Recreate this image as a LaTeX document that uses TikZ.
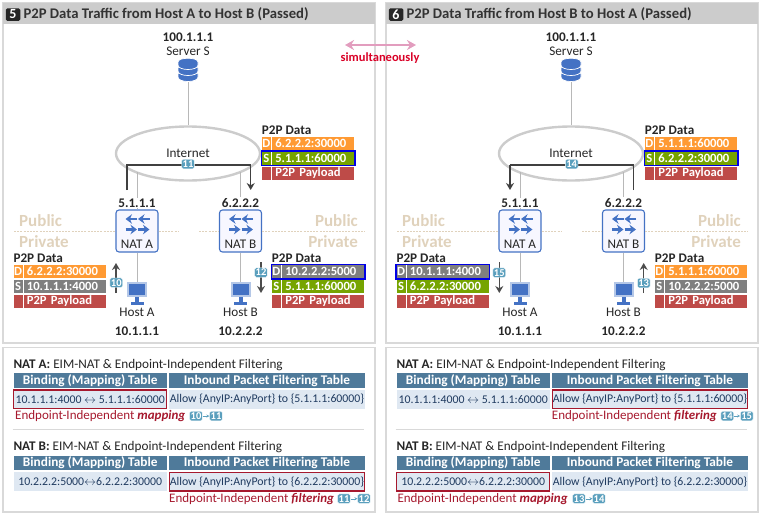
\documentclass[tikz,border=0pt]{standalone}
\usepackage{fontspec}
\setmainfont{Carlito}
\usepackage{xcolor}
\usetikzlibrary{positioning,shapes.geometric,arrows.meta,fit}
\definecolor{frmgray}{HTML}{D9D9D9}
\definecolor{barblue}{HTML}{4F7A9A}
\definecolor{rowblue}{HTML}{DFE8F2}
\definecolor{txtblue}{HTML}{1F3A5F}
\definecolor{icoblue}{HTML}{4472C4}
\definecolor{icolite}{HTML}{B4C7E7}
\definecolor{tagteal}{HTML}{5A9FBD}
\definecolor{pktorange}{HTML}{FF9A33}
\definecolor{pktgreen}{HTML}{76A400}
\definecolor{pktgray}{HTML}{7F7F7F}
\definecolor{pktred}{HTML}{BE4B48}
\definecolor{tan}{HTML}{E0D2BC}
\definecolor{redline}{HTML}{A6192E}
\definecolor{pinkline}{HTML}{E29DBE}
\tikzset{
  frm/.style={draw=frmgray, line width=1.2pt},
  link/.style={draw=black!28, line width=1pt},
  flow/.style={draw=black!75, line width=1.2pt},
  updown/.style={draw=black!70, line width=1.4pt, -{Stealth[length=7pt,width=8pt]}},
  zone/.style={draw=tan, line width=1pt, dash pattern=on 2pt off 1.2pt},
  zonetxt/.style={text=tan, font=\fontsize{17}{17}\selectfont\bfseries, inner sep=0pt},
  lbl/.style={text=black!85, font=\fontsize{13.2}{14}\selectfont, inner sep=0pt},
  lblb/.style={text=black!85, font=\fontsize{13.2}{14}\selectfont\bfseries, inner sep=0pt},
  tag/.style={fill=tagteal, draw=white, line width=.3pt, rounded corners=1.5pt, text=white, inner sep=0pt,
    minimum width=12.7pt, minimum height=9.5pt, font=\fontsize{10.5}{10.5}\selectfont\bfseries},
  pktkey/.style={text=white, inner sep=0pt, minimum width=9pt, minimum height=13.5pt,
    font=\fontsize{12.6}{13}\selectfont\bfseries},
  pktval/.style={text=white, inner sep=0pt, minimum width=82pt, minimum height=13.5pt,
    text width=76pt, align=left, font=\fontsize{12.6}{13}\selectfont\bfseries},
  bluebox/.style={draw=blue!90!black, line width=1.3pt, inner sep=.4pt},
  redbox/.style={draw=redline, line width=1.4pt, inner sep=-.4pt},
  thead/.style={fill=barblue, text=white, inner sep=0pt, minimum height=14.7pt, font=\fontsize{13.3}{14}\selectfont\bfseries},
  tcell/.style={fill=rowblue, text=txtblue, inner sep=0pt, minimum height=19pt, font=\fontsize{11.8}{13}\selectfont},
  redtxt/.style={text=redline, inner sep=0pt, font=\fontsize{13}{13}\selectfont},
  natbox/.style={draw=icoblue, fill=blue!3, line width=1.1pt, rounded corners=3pt, minimum width=42pt, minimum height=42pt, inner sep=0pt},
  natarrow/.style={icoblue, line width=2.6pt, -{Stealth[length=6.5pt,width=9.5pt]}},
}
\newcommand{\pktbox}[7]{
  \node[pktkey, fill=#4, anchor=west] (#1d) at (#2,#3) {D};
  \node[pktval, fill=#4, right=1pt of #1d] (#1dv) {#5};
  \node[pktkey, fill=#6, below=1pt of #1d] (#1s) {S};
  \node[pktval, fill=#6, right=1pt of #1s] (#1sv) {#7};
  \node[pktkey, fill=pktred, below=1pt of #1s] (#1p) {};
  \node[pktval, fill=pktred, right=1pt of #1p] (#1pv) {P2P Payload};
  \node[lblb, anchor=south west] (#1t) at (#2,#3-8.5) {P2P Data};
}
\newcommand{\nattable}[5]{
  \node[lbl, anchor=west] (#1t) at (\tblx,#2) {\textbf{#3:} EIM-NAT \& Endpoint-Independent Filtering};
  \node[thead, minimum width=153.4pt, anchor=west] (#1a) at (\tblx,#2+15.5) {Binding (Mapping) Table};
  \node[thead, minimum width=195.3pt, right=2pt of #1a] (#1b) {Inbound Packet Filtering Table};
  \node[tcell, minimum width=153.4pt, below=1.6pt of #1a] (#1c) {#4};
  \node[tcell, minimum width=195.3pt, below=1.6pt of #1b] (#1e) {#5};
}
\begin{document}
\begin{tikzpicture}[x=1pt, y=-1pt, >=stealth]
  \useasboundingbox (0,0) rectangle (760,515);
  \foreach \p/\dx/\num/\from/\to in {L/0/5/A/B, R/383/6/B/A} {
    \begin{scope}[xshift=\dx]
      \draw[frm] (3,3) rectangle (375,343);
      \fill[black!20] (3,3) rectangle (375,24);
      \draw[frm] (3,347.5) rectangle (375,512);
      \node[fill=black!85, text=white, rounded corners=1.5pt, inner sep=0pt, minimum width=14.5pt, minimum height=12.5pt,
        font=\fontsize{14}{14}\selectfont\bfseries] (\p num) at (13,14.5) {\num};
      \node[text=black!80, anchor=west, inner sep=0pt, font=\fontsize{14.7}{15}\selectfont\bfseries] (\p title) at (23.3,14)
        {P2P Data Traffic from Host \from{} to Host \to{} (Passed)};
      \node[lblb] (\p ip) at (188,37) {100.1.1.1};
      \node[lbl] (\p name) at (188,51) {Server S};
      \node[minimum width=20pt, minimum height=22pt, inner sep=0pt] (\p srv) at (188,71) {};
      \foreach \yy in {77,71,65}
        \filldraw[fill=icoblue, draw=white, line width=.7pt] (178,\yy) .. controls (178,\yy+6) and (198,\yy+6) .. (198,\yy)
          -- (198,\yy-3) .. controls (198,\yy-8) and (178,\yy-8) .. (178,\yy-3) -- cycle;
      \node[ellipse, draw=black!20, line width=2.4pt, fill=white, minimum width=144pt, minimum height=54pt, inner sep=0pt] (\p net) at (188,153.5) {};
      \node[lbl] (\p nettxt) at (188,153) {Internet};
      \draw[link] (\p srv) -- (\p net);
      \node[natbox] (\p natA) at (137,231) {};
      \node[natbox] (\p natB) at (240.5,231) {};
      \coordinate (\p natAup) at (137,172);
      \coordinate (\p natBup) at (240.5,172);
      \draw[link] (\p natAup) -- (\p natA);
      \draw[link] (\p natBup) -- (\p natB);
      \node[lblb, fill=white, inner ysep=1pt, inner xsep=0pt] (\p ipA) at (137,203) {5.1.1.1};
      \node[lblb, fill=white, inner ysep=1pt, inner xsep=0pt] (\p ipB) at (240.5,203) {6.2.2.2};
      \foreach \cx in {137,240.5} {
        \foreach \ax in {-11.5,1} {
          \draw[natarrow] (\cx+\ax+11.5,219) -- (\cx+\ax,219);
          \draw[natarrow] (\cx+\ax,229.5) -- (\cx+\ax+11.5,229.5);
        }
      }
      \node[lbl] (\p natAt) at (137,244) {NAT A};
      \node[lbl] (\p natBt) at (240.5,244) {NAT B};
      \coordinate (\p zoneAl) at (14,231);
      \coordinate (\p zoneAr) at (179,231);
      \coordinate (\p zoneBl) at (199,231);
      \coordinate (\p zoneBr) at (365,231);
      \draw[zone] (\p zoneAl) -- (\p natA.west);
      \draw[zone] (\p natA.east) -- (\p zoneAr);
      \draw[zone] (\p zoneBl) -- (\p natB.west);
      \draw[zone] (\p natB.east) -- (\p zoneBr);
      \node[zonetxt, anchor=west] (\p pubA) at (19,221) {Public};
      \node[zonetxt, anchor=west] (\p priA) at (19,241.5) {Private};
      \node[zonetxt, anchor=east] (\p pubB) at (358,221) {Public};
      \node[zonetxt, anchor=east] (\p priB) at (358,241.5) {Private};
      \foreach \h/\cx/\ha/\hip in {A/137/A/10.1.1.1, B/240.5/B/10.2.2.2} {
        \node[minimum width=20pt, minimum height=15pt, inner sep=0pt, fill=icolite] (\p host\h) at (\cx,289.5) {};
        \fill[icoblue] (\cx-8,284) rectangle (\cx+8,295);
        \fill[icoblue] (\cx-2,297) rectangle (\cx+2,302);
        \fill[icoblue] (\cx-6.5,302) rectangle (\cx+6.5,304.5);
        \draw[link] (\p nat\h) -- (\p host\h);
        \node[lbl] (\p hostt\h) at (\cx,312) {Host \ha};
        \node[lblb] (\p hostip\h) at (\cx,331) {\hip};
      }
    \end{scope}
  }

  \coordinate (simL) at (345,45);
  \coordinate (simR) at (416,45);
  \draw[draw=pinkline, line width=2.4pt, {Stealth[length=9pt,width=10pt]}-{Stealth[length=9pt,width=10pt]}] (simL) -- (simR);
  \node[text=red!85!blue, inner sep=0pt, font=\fontsize{12.5}{13}\selectfont\bfseries] (sim) at (380,58) {simultaneously};

  \pktbox{pa}{261.7}{143.5}{pktorange}{6.2.2.2:30000}{pktgreen}{5.1.1.1:60000}
  \pktbox{pb}{13.3}{271.5}{pktorange}{6.2.2.2:30000}{pktgray}{10.1.1.1:4000}
  \pktbox{pc}{271.7}{271.5}{pktgray}{10.2.2.2:5000}{pktgreen}{5.1.1.1:60000}
  \pktbox{pd}{644.7}{143.5}{pktorange}{5.1.1.1:60000}{pktgreen}{6.2.2.2:30000}
  \pktbox{pe}{396.3}{271.5}{pktgray}{10.1.1.1:4000}{pktgreen}{6.2.2.2:30000}
  \pktbox{pf}{654.7}{271.5}{pktorange}{5.1.1.1:60000}{pktgray}{10.2.2.2:5000}
  \node[bluebox, fit=(pas)(pasv)] (pahl) {};
  \node[bluebox, fit=(pcd)(pcdv)] (pchl) {};
  \node[bluebox, fit=(pds)(pdsv)] (pdhl) {};
  \node[bluebox, fit=(ped)(pedv)] (pehl) {};

  \coordinate (fa1) at (127,190);
  \coordinate (fa2) at (127,165);
  \coordinate (fa3) at (250.7,165);
  \coordinate (fa4) at (250.7,190);
  \draw[flow] (fa1) -- (fa2) -- (fa3);
  \draw[flow, -{Stealth[length=7pt,width=8pt]}] (fa3) -- (fa4);
  \coordinate (fb1) at (633.7,190);
  \coordinate (fb2) at (633.7,165);
  \coordinate (fb3) at (510,165);
  \coordinate (fb4) at (510,190);
  \draw[flow] (fb1) -- (fb2) -- (fb3);
  \draw[flow, -{Stealth[length=7pt,width=8pt]}] (fb3) -- (fb4);

  \coordinate (ua1) at (116,293);
  \coordinate (ua2) at (116,263);
  \draw[updown] (ua1) -- (ua2);
  \coordinate (ub1) at (261,262);
  \coordinate (ub2) at (261,293);
  \draw[updown] (ub1) -- (ub2);
  \coordinate (uc1) at (499.3,262);
  \coordinate (uc2) at (499.3,293);
  \draw[updown] (uc1) -- (uc2);
  \coordinate (ud1) at (643.7,293);
  \coordinate (ud2) at (643.7,263);
  \draw[updown] (ud1) -- (ud2);

  \node[tag] (t11) at (188,164) {11};
  \node[tag] (t14) at (571.7,164) {14};
  \node[tag] (t10) at (116.3,282.7) {10};
  \node[tag] (t12) at (261,272.5) {12};
  \node[tag] (t15) at (499.3,272.7) {15};
  \node[tag] (t13) at (643.7,283) {13};

  \def\tblx{13.3}
  \nattable{la}{365}{NAT A}{10.1.1.1:4000 $\leftrightarrow$ 5.1.1.1:60000}{Allow \{AnyIP:AnyPort\} to \{5.1.1.1:60000\}}
  \nattable{lb}{447.5}{NAT B}{10.2.2.2:5000$\leftrightarrow$6.2.2.2:30000}{Allow \{AnyIP:AnyPort\} to \{6.2.2.2:30000\}}
  \def\tblx{396.3}
  \nattable{ra}{365}{NAT A}{10.1.1.1:4000 $\leftrightarrow$ 5.1.1.1:60000}{Allow \{AnyIP:AnyPort\} to \{5.1.1.1:60000\}}
  \nattable{rb}{447.5}{NAT B}{10.2.2.2:5000$\leftrightarrow$6.2.2.2:30000}{Allow \{AnyIP:AnyPort\} to \{6.2.2.2:30000\}}

  \coordinate (sepLa) at (12.7,429.7);
  \coordinate (sepLb) at (364.3,429.7);
  \coordinate (sepRa) at (395.7,429.7);
  \coordinate (sepRb) at (747.3,429.7);
  \draw[frm] (sepLa) -- (sepLb);
  \draw[frm] (sepRa) -- (sepRb);

  \node[redbox, fit=(lac)] (lahl) {};
  \node[redbox, fit=(lbe)] (lbhl) {};
  \node[redbox, fit=(rae)] (rahl) {};
  \node[redbox, fit=(rbc)] (rbhl) {};

  \node[redtxt, anchor=west] (lam) at (15,416) {Endpoint-Independent \textbf{\textit{mapping}}};
  \node[tag] (lam1) at (196,416) {10};
  \node[tag] (lam2) at (216,416) {11};
  \draw[->, draw=tagteal] (lam1) -- (lam2);
  \node[redtxt, anchor=west] (lbm) at (169,498.7) {Endpoint-Independent \textbf{\textit{filtering}}};
  \node[tag] (lbm1) at (344,498.7) {11};
  \node[tag] (lbm2) at (364,498.7) {12};
  \draw[->, draw=tagteal] (lbm1) -- (lbm2);
  \node[redtxt, anchor=west] (ram) at (551.7,416) {Endpoint-Independent \textbf{\textit{filtering}}};
  \node[tag] (ram1) at (727.3,416) {14};
  \node[tag] (ram2) at (746.7,416) {15};
  \draw[->, draw=tagteal] (ram1) -- (ram2);
  \node[redtxt, anchor=west] (rbm) at (397.3,498.7) {Endpoint-Independent \textbf{\textit{mapping}}};
  \node[tag] (rbm1) at (579,498.7) {13};
  \node[tag] (rbm2) at (599,498.7) {14};
  \draw[->, draw=tagteal] (rbm1) -- (rbm2);
\end{tikzpicture}
\end{document}
